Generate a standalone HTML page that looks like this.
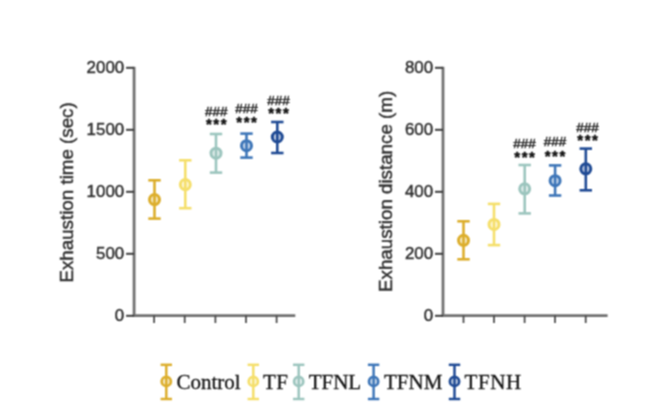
<!DOCTYPE html>
<html><head><meta charset="utf-8"><title>Exhaustion chart</title>
<style>
html,body{margin:0;padding:0;background:#fff;}
body{width:663px;height:413px;overflow:hidden;}
svg{display:block;font-family:"Liberation Sans",sans-serif;}
.leg{font-family:"Liberation Serif",serif;}
</style></head><body>
<svg width="663" height="413" viewBox="0 0 663 413">
<defs><filter id="soft" x="0" y="0" width="663" height="413" filterUnits="userSpaceOnUse" color-interpolation-filters="sRGB"><feConvolveMatrix order="3" kernelMatrix="1 2 1 2 4 2 1 2 1" divisor="16" edgeMode="none"/></filter></defs>
<rect width="663" height="413" fill="#fff"/>
<g filter="url(#soft)">

<g stroke="#707070" stroke-width="2.8" fill="none"><line x1="134.1" y1="66.8" x2="134.1" y2="316.9"/><line x1="132.79999999999998" y1="315.6" x2="295.3" y2="315.6"/></g><g stroke="#3c3c3c" stroke-width="2" fill="none"><line x1="126.1" y1="67.8" x2="134.1" y2="67.8"/><line x1="126.1" y1="129.8" x2="134.1" y2="129.8"/><line x1="126.1" y1="191.8" x2="134.1" y2="191.8"/><line x1="126.1" y1="253.8" x2="134.1" y2="253.8"/><line x1="126.1" y1="315.8" x2="134.1" y2="315.8"/></g><g stroke="#444" stroke-width="1.7" fill="none"><line x1="154.1" y1="315.6" x2="154.1" y2="323"/><line x1="184.7" y1="315.6" x2="184.7" y2="323"/><line x1="215.4" y1="315.6" x2="215.4" y2="323"/><line x1="246" y1="315.6" x2="246" y2="323"/><line x1="276.6" y1="315.6" x2="276.6" y2="323"/></g><g font-size="16.9" fill="#303030" stroke="#303030" stroke-width="0.45" text-anchor="end"><text x="124.19999999999999" y="73.2">2000</text><text x="124.19999999999999" y="135.20000000000002">1500</text><text x="124.19999999999999" y="197.20000000000002">1000</text><text x="124.19999999999999" y="259.2">500</text><text x="124.19999999999999" y="321.2">0</text></g><text font-size="18.75" fill="#303030" stroke="#303030" stroke-width="0.45" text-anchor="middle" transform="translate(73.3,192.4) rotate(-90)">Exhaustion time (sec)</text>
<g stroke="#707070" stroke-width="2.8" fill="none"><line x1="443" y1="66.8" x2="443" y2="316.9"/><line x1="441.7" y1="315.6" x2="607.6" y2="315.6"/></g><g stroke="#3c3c3c" stroke-width="2" fill="none"><line x1="435" y1="67.8" x2="443" y2="67.8"/><line x1="435" y1="129.8" x2="443" y2="129.8"/><line x1="435" y1="191.8" x2="443" y2="191.8"/><line x1="435" y1="253.8" x2="443" y2="253.8"/><line x1="435" y1="315.8" x2="443" y2="315.8"/></g><g stroke="#444" stroke-width="1.7" fill="none"><line x1="463.5" y1="315.6" x2="463.5" y2="323"/><line x1="494" y1="315.6" x2="494" y2="323"/><line x1="524.6" y1="315.6" x2="524.6" y2="323"/><line x1="555" y1="315.6" x2="555" y2="323"/><line x1="585.7" y1="315.6" x2="585.7" y2="323"/></g><g font-size="16.9" fill="#303030" stroke="#303030" stroke-width="0.45" text-anchor="end"><text x="433.1" y="73.2">800</text><text x="433.1" y="135.20000000000002">600</text><text x="433.1" y="197.20000000000002">400</text><text x="433.1" y="259.2">200</text><text x="433.1" y="321.2">0</text></g><text font-size="18.75" fill="#303030" stroke="#303030" stroke-width="0.45" text-anchor="middle" transform="translate(392.0,191.4) rotate(-90)">Exhaustion distance (m)</text>
<g stroke="#dcae2c" fill="none" stroke-width="2.6"><line x1="154.5" y1="180.3" x2="154.5" y2="218.6"/><line x1="148.3" y1="180.3" x2="160.7" y2="180.3"/><line x1="148.3" y1="218.6" x2="160.7" y2="218.6"/><circle cx="154.5" cy="199.6" r="5.0" stroke-width="3.0" fill="#dcae2c" fill-opacity="0.3"/></g>
<g stroke="#f5df6b" fill="none" stroke-width="2.6"><line x1="185.3" y1="160.3" x2="185.3" y2="208.2"/><line x1="179.10000000000002" y1="160.3" x2="191.5" y2="160.3"/><line x1="179.10000000000002" y1="208.2" x2="191.5" y2="208.2"/><circle cx="185.3" cy="184.6" r="5.0" stroke-width="3.0" fill="#f5df6b" fill-opacity="0.3"/></g>
<g stroke="#9cc5be" fill="none" stroke-width="2.6"><line x1="216" y1="134" x2="216" y2="172.6"/><line x1="209.8" y1="134" x2="222.2" y2="134"/><line x1="209.8" y1="172.6" x2="222.2" y2="172.6"/><circle cx="216" cy="153.2" r="5.0" stroke-width="3.0" fill="#9cc5be" fill-opacity="0.3"/></g>
<g stroke="#3e76b8" fill="none" stroke-width="2.6"><line x1="246.5" y1="133.6" x2="246.5" y2="157.6"/><line x1="240.3" y1="133.6" x2="252.7" y2="133.6"/><line x1="240.3" y1="157.6" x2="252.7" y2="157.6"/><circle cx="246.5" cy="145.7" r="5.0" stroke-width="3.0" fill="#3e76b8" fill-opacity="0.3"/></g>
<g stroke="#1f4a94" fill="none" stroke-width="2.6"><line x1="277.3" y1="122" x2="277.3" y2="153"/><line x1="271.1" y1="122" x2="283.5" y2="122"/><line x1="271.1" y1="153" x2="283.5" y2="153"/><circle cx="277.3" cy="137" r="5.0" stroke-width="3.0" fill="#1f4a94" fill-opacity="0.3"/></g>
<text x="216.3" y="115.96" font-size="13.5" text-anchor="middle" fill="#222" stroke="#222" stroke-width="0.5">###</text><text x="217.085" y="128.85" font-size="15" font-weight="bold" letter-spacing="1.57" text-anchor="middle" fill="#111" stroke="#111" stroke-width="0.5">***</text>
<text x="246.6" y="113.46" font-size="13.5" text-anchor="middle" fill="#222" stroke="#222" stroke-width="0.5">###</text><text x="247.385" y="126.7" font-size="15" font-weight="bold" letter-spacing="1.57" text-anchor="middle" fill="#111" stroke="#111" stroke-width="0.5">***</text>
<text x="278.5" y="105.26" font-size="13.5" text-anchor="middle" fill="#222" stroke="#222" stroke-width="0.5">###</text><text x="279.285" y="118.35" font-size="15" font-weight="bold" letter-spacing="1.57" text-anchor="middle" fill="#111" stroke="#111" stroke-width="0.5">***</text>
<g stroke="#dcae2c" fill="none" stroke-width="2.6"><line x1="463.5" y1="221.3" x2="463.5" y2="259.3"/><line x1="457.3" y1="221.3" x2="469.7" y2="221.3"/><line x1="457.3" y1="259.3" x2="469.7" y2="259.3"/><circle cx="463.5" cy="240.3" r="5.0" stroke-width="3.0" fill="#dcae2c" fill-opacity="0.3"/></g>
<g stroke="#f5df6b" fill="none" stroke-width="2.6"><line x1="494" y1="203.9" x2="494" y2="245.1"/><line x1="487.8" y1="203.9" x2="500.2" y2="203.9"/><line x1="487.8" y1="245.1" x2="500.2" y2="245.1"/><circle cx="494" cy="224.4" r="5.0" stroke-width="3.0" fill="#f5df6b" fill-opacity="0.3"/></g>
<g stroke="#9cc5be" fill="none" stroke-width="2.6"><line x1="524.7" y1="165.0" x2="524.7" y2="213.4"/><line x1="518.5" y1="165.0" x2="530.9000000000001" y2="165.0"/><line x1="518.5" y1="213.4" x2="530.9000000000001" y2="213.4"/><circle cx="524.7" cy="188.8" r="5.0" stroke-width="3.0" fill="#9cc5be" fill-opacity="0.3"/></g>
<g stroke="#3e76b8" fill="none" stroke-width="2.6"><line x1="555.1" y1="165.4" x2="555.1" y2="195.5"/><line x1="548.9" y1="165.4" x2="561.3000000000001" y2="165.4"/><line x1="548.9" y1="195.5" x2="561.3000000000001" y2="195.5"/><circle cx="555.1" cy="180.7" r="5.0" stroke-width="3.0" fill="#3e76b8" fill-opacity="0.3"/></g>
<g stroke="#1f4a94" fill="none" stroke-width="2.6"><line x1="585.8" y1="148.6" x2="585.8" y2="190.3"/><line x1="579.5999999999999" y1="148.6" x2="592.0" y2="148.6"/><line x1="579.5999999999999" y1="190.3" x2="592.0" y2="190.3"/><circle cx="585.8" cy="168.8" r="5.0" stroke-width="3.0" fill="#1f4a94" fill-opacity="0.3"/></g>
<text x="524.6" y="148.26" font-size="13.5" text-anchor="middle" fill="#222" stroke="#222" stroke-width="0.5">###</text><text x="525.385" y="162.15" font-size="15" font-weight="bold" letter-spacing="1.57" text-anchor="middle" fill="#111" stroke="#111" stroke-width="0.5">***</text>
<text x="555" y="146.46" font-size="13.5" text-anchor="middle" fill="#222" stroke="#222" stroke-width="0.5">###</text><text x="555.785" y="160.55" font-size="15" font-weight="bold" letter-spacing="1.57" text-anchor="middle" fill="#111" stroke="#111" stroke-width="0.5">***</text>
<text x="587.6" y="131.66" font-size="13.5" text-anchor="middle" fill="#222" stroke="#222" stroke-width="0.5">###</text><text x="588.385" y="145.25" font-size="15" font-weight="bold" letter-spacing="1.57" text-anchor="middle" fill="#111" stroke="#111" stroke-width="0.5">***</text>
<g stroke="#dcae2c" fill="none" stroke-width="2.5"><line x1="166.3" y1="364.8" x2="166.3" y2="399.0"/><line x1="160.60000000000002" y1="364.8" x2="172.0" y2="364.8"/><line x1="160.60000000000002" y1="399.0" x2="172.0" y2="399.0"/><circle cx="166.3" cy="381.4" r="4.6" stroke-width="2.7" fill="#dcae2c" fill-opacity="0.25"/></g>
<text class="leg" x="176.5" y="388.8" font-size="21" fill="#141414" stroke="#141414" stroke-width="0.3">Control</text>
<g stroke="#f5df6b" fill="none" stroke-width="2.5"><line x1="253.3" y1="364.8" x2="253.3" y2="399.0"/><line x1="247.60000000000002" y1="364.8" x2="259.0" y2="364.8"/><line x1="247.60000000000002" y1="399.0" x2="259.0" y2="399.0"/><circle cx="253.3" cy="381.4" r="4.6" stroke-width="2.7" fill="#f5df6b" fill-opacity="0.25"/></g>
<text class="leg" x="263.0" y="388.8" font-size="21" letter-spacing="0.3" fill="#141414" stroke="#141414" stroke-width="0.3">TF</text>
<g stroke="#9cc5be" fill="none" stroke-width="2.5"><line x1="298.7" y1="364.8" x2="298.7" y2="399.0"/><line x1="293.0" y1="364.8" x2="304.4" y2="364.8"/><line x1="293.0" y1="399.0" x2="304.4" y2="399.0"/><circle cx="298.7" cy="381.4" r="4.6" stroke-width="2.7" fill="#9cc5be" fill-opacity="0.25"/></g>
<text class="leg" x="308.7" y="388.8" font-size="21" fill="#141414" stroke="#141414" stroke-width="0.3">TFNL</text>
<g stroke="#3e76b8" fill="none" stroke-width="2.5"><line x1="373.6" y1="364.8" x2="373.6" y2="399.0"/><line x1="367.90000000000003" y1="364.8" x2="379.3" y2="364.8"/><line x1="367.90000000000003" y1="399.0" x2="379.3" y2="399.0"/><circle cx="373.6" cy="381.4" r="4.6" stroke-width="2.7" fill="#3e76b8" fill-opacity="0.25"/></g>
<text class="leg" x="384.0" y="388.8" font-size="21" fill="#141414" stroke="#141414" stroke-width="0.3">TFNM</text>
<g stroke="#1f4a94" fill="none" stroke-width="2.5"><line x1="454.5" y1="364.8" x2="454.5" y2="399.0"/><line x1="448.8" y1="364.8" x2="460.2" y2="364.8"/><line x1="448.8" y1="399.0" x2="460.2" y2="399.0"/><circle cx="454.5" cy="381.4" r="4.6" stroke-width="2.7" fill="#1f4a94" fill-opacity="0.25"/></g>
<text class="leg" x="464.6" y="388.8" font-size="21" letter-spacing="0.6" fill="#141414" stroke="#141414" stroke-width="0.3">TFNH</text>
</g></svg></body></html>
